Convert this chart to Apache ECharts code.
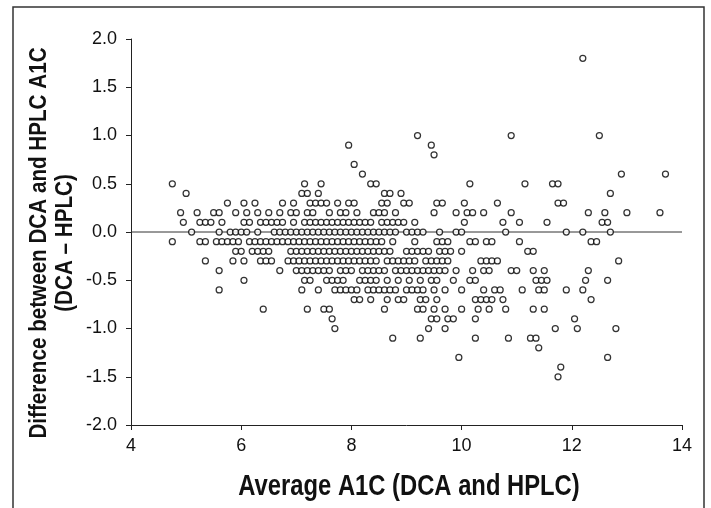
<!DOCTYPE html>
<html>
<head>
<meta charset="utf-8">
<script src="https://cdn.jsdelivr.net/npm/echarts@6/dist/echarts.min.js"></script>
<style>html,body{margin:0;padding:0;background:#fff;}#c{width:711px;height:508px;}</style>
</head>
<body>
<div id="c"></div>
<script>
// ---- Data: Average A1C (x) grouped by difference DCA - HPLC (y) ----
const xTicks = [4, 6, 8, 10, 12, 14];
const yTicks = [-2.0, -1.5, -1.0, -0.5, 0.0, 0.5, 1.0, 1.5, 2.0];
const diffLevels = [1.8, 1.0, 0.9, 0.8, 0.7, 0.6, 0.5, 0.4, 0.3, 0.2, 0.1, 0.0, -0.1, -0.2, -0.3, -0.4, -0.5, -0.6, -0.7, -0.8, -0.9, -1.0, -1.1, -1.2, -1.3, -1.4, -1.5];
const avg_p18 = [12.2];
const avg_p10 = [9.2, 10.9, 12.5];
const avg_p09 = [7.95, 9.45];
const avg_p08 = [9.5];
const avg_p07 = [8.05];
const avg_p06 = [8.2, 12.9, 13.7];
const avg_p05 = [4.75, 7.15, 7.45, 8.35, 8.45, 10.15, 11.15, 11.65, 11.75];
const avg_p04 = [5.0, 7.1, 7.2, 7.4, 8.6, 8.7, 8.9, 12.7];
const avg_p03 = [5.75, 6.05, 6.25, 6.75, 6.95, 7.25, 7.35, 7.45, 7.55, 7.75, 7.95, 8.05, 8.55, 8.65, 8.95, 9.05, 9.55, 9.65, 10.05, 10.65, 11.75, 11.85];
const avg_p02 = [4.9, 5.2, 5.5, 5.6, 5.9, 6.1, 6.3, 6.5, 6.7, 6.9, 7.0, 7.2, 7.3, 7.6, 7.8, 7.9, 8.1, 8.4, 8.5, 8.6, 8.8, 9.5, 9.9, 10.1, 10.2, 10.4, 10.9, 12.3, 12.6, 13.0, 13.6];
const avg_p01 = [4.95, 5.25, 5.35, 5.45, 5.65, 6.05, 6.15, 6.35, 6.45, 6.55, 6.65, 6.75, 6.95, 7.15, 7.25, 7.35, 7.45, 7.55, 7.65, 7.75, 7.85, 7.95, 8.05, 8.15, 8.25, 8.35, 8.55, 8.65, 8.75, 8.85, 8.95, 9.15, 10.05, 10.75, 11.05, 11.55, 12.55, 12.65];
const avg_000 = [5.1, 5.6, 5.8, 5.9, 6.0, 6.1, 6.3, 6.6, 6.7, 6.8, 6.9, 7.0, 7.1, 7.2, 7.3, 7.4, 7.5, 7.6, 7.7, 7.8, 7.9, 8.0, 8.1, 8.2, 8.3, 8.4, 8.5, 8.6, 8.7, 8.8, 9.0, 9.1, 9.2, 9.3, 9.6, 9.9, 10.0, 10.8, 11.9, 12.2, 12.7];
const avg_m01 = [4.75, 5.25, 5.35, 5.55, 5.65, 5.75, 5.85, 5.95, 6.15, 6.25, 6.35, 6.45, 6.55, 6.65, 6.75, 6.85, 6.95, 7.05, 7.15, 7.25, 7.35, 7.45, 7.55, 7.65, 7.75, 7.85, 7.95, 8.05, 8.15, 8.25, 8.35, 8.45, 8.55, 8.75, 9.15, 9.55, 9.65, 9.75, 10.15, 10.25, 10.45, 10.55, 11.05, 12.35, 12.45];
const avg_m02 = [5.9, 6.0, 6.2, 6.3, 6.4, 6.5, 6.9, 7.0, 7.1, 7.2, 7.3, 7.4, 7.5, 7.6, 7.7, 7.8, 7.9, 8.0, 8.1, 8.2, 8.3, 8.4, 8.5, 8.6, 8.7, 9.0, 9.1, 9.2, 9.3, 9.4, 9.6, 9.7, 9.8, 10.0, 11.2, 11.3];
const avg_m03 = [5.35, 5.85, 6.05, 6.35, 6.45, 6.55, 6.85, 6.95, 7.05, 7.15, 7.25, 7.35, 7.45, 7.55, 7.65, 7.75, 7.85, 7.95, 8.05, 8.15, 8.25, 8.35, 8.45, 8.65, 8.75, 8.85, 8.95, 9.05, 9.15, 9.35, 9.45, 9.55, 9.65, 9.75, 10.35, 10.45, 10.55, 10.65, 12.85];
const avg_m04 = [5.6, 6.7, 7.0, 7.1, 7.2, 7.3, 7.4, 7.5, 7.6, 7.8, 7.9, 8.0, 8.2, 8.3, 8.4, 8.5, 8.6, 8.8, 8.9, 9.0, 9.1, 9.2, 9.3, 9.4, 9.5, 9.6, 9.7, 9.9, 10.2, 10.4, 10.5, 10.9, 11.0, 11.3, 11.5, 12.3];
const avg_m05 = [6.05, 7.15, 7.25, 7.55, 7.65, 7.75, 7.85, 8.15, 8.25, 8.35, 8.45, 8.65, 8.85, 9.05, 9.25, 9.45, 9.55, 9.85, 10.15, 10.25, 11.35, 11.45, 11.55, 12.25, 12.65];
const avg_m06 = [5.6, 7.1, 7.4, 7.7, 7.8, 7.9, 8.0, 8.1, 8.3, 8.4, 8.5, 8.6, 8.7, 8.8, 9.0, 9.1, 9.2, 9.3, 9.5, 9.7, 10.0, 10.4, 10.6, 10.7, 11.1, 11.4, 11.5, 11.9, 12.2];
const avg_m07 = [8.05, 8.15, 8.35, 8.65, 8.85, 8.95, 9.25, 9.35, 9.55, 10.25, 10.35, 10.45, 10.55, 10.75, 12.35];
const avg_m08 = [6.4, 7.2, 7.5, 7.6, 8.6, 9.2, 9.3, 9.5, 9.7, 10.0, 10.3, 10.5, 10.8, 11.3, 11.5];
const avg_m09 = [7.65, 9.45, 9.55, 9.75, 9.85, 10.25, 12.05];
const avg_m10 = [7.7, 9.4, 9.7, 11.7, 12.1, 12.8];
const avg_m11 = [8.75, 9.25, 10.25, 10.85, 11.25, 11.35];
const avg_m12 = [11.4];
const avg_m13 = [9.95, 12.65];
const avg_m14 = [11.8];
const avg_m15 = [11.75];
const avgByLevel = [avg_p18, avg_p10, avg_p09, avg_p08, avg_p07, avg_p06, avg_p05, avg_p04, avg_p03, avg_p02, avg_p01, avg_000,
  avg_m01, avg_m02, avg_m03, avg_m04, avg_m05, avg_m06, avg_m07, avg_m08, avg_m09, avg_m10, avg_m11, avg_m12, avg_m13, avg_m14, avg_m15];
const xTitle = 'Average A1C (DCA and HPLC)';
const yTitle = 'Difference between DCA and HPLC A1C\n(DCA \u2013 HPLC)';

// ---- build points ----
const points = [];
diffLevels.forEach((d, i) => avgByLevel[i].forEach(x => points.push([x, d])));

const FF = '"Liberation Sans", Arial, sans-serif';

const chart = echarts.init(document.getElementById('c'), null, {renderer: 'canvas'});
const axisCol = '#222';
chart.setOption({
  animation: false,
  backgroundColor: '#fff',
  grid: {left: 131, right: 29, top: 39, bottom: 83, containLabel: false},
  xAxis: {
    type: 'value', min: xTicks[0], max: xTicks[xTicks.length - 1], interval: 2,
    axisLine: {show: true, onZero: false, lineStyle: {color: axisCol, width: 1}},
    axisTick: {show: true, length: 5, inside: false, lineStyle: {color: axisCol, width: 1}},
    axisLabel: {color: '#111', fontSize: 18, fontFamily: FF, margin: 12},
    splitLine: {show: false}
  },
  yAxis: {
    type: 'value', min: yTicks[0], max: yTicks[yTicks.length - 1], interval: 0.5,
    axisLine: {show: true, onZero: false, lineStyle: {color: axisCol, width: 1}},
    axisTick: {show: true, length: 5, inside: false, lineStyle: {color: axisCol, width: 1}},
    axisLabel: {color: '#111', fontSize: 18, fontFamily: FF, margin: 14, formatter: v => v.toFixed(1)},
    splitLine: {show: false}
  },
  series: [
    {type: 'line', data: [[xTicks[0], 0], [xTicks[xTicks.length - 1], 0]], symbol: 'none', z: 1,
     lineStyle: {color: '#333', width: 1}, silent: true},
    {type: 'scatter', data: points, symbol: 'circle', symbolSize: 6, z: 3,
     itemStyle: {color: '#fff', borderColor: '#000', borderWidth: 1.25}}
  ],
  graphic: [
    {type: 'rect', shape: {x: 13, y: 7, width: 691, height: 520}, style: {fill: 'none', stroke: '#333', lineWidth: 1.5}, silent: true},
    {type: 'text', x: 409, y: 487, scaleX: 0.82, style: {text: xTitle, font: 'bold 29px ' + FF, fill: '#111', align: 'center', verticalAlign: 'middle'}},
    {type: 'text', x: 52, y: 243, rotation: Math.PI / 2, scaleX: 0.86, style: {text: yTitle, font: 'bold 24px ' + FF, fill: '#111', align: 'center', verticalAlign: 'middle', lineHeight: 26}}
  ]
});
</script>
</body>
</html>
